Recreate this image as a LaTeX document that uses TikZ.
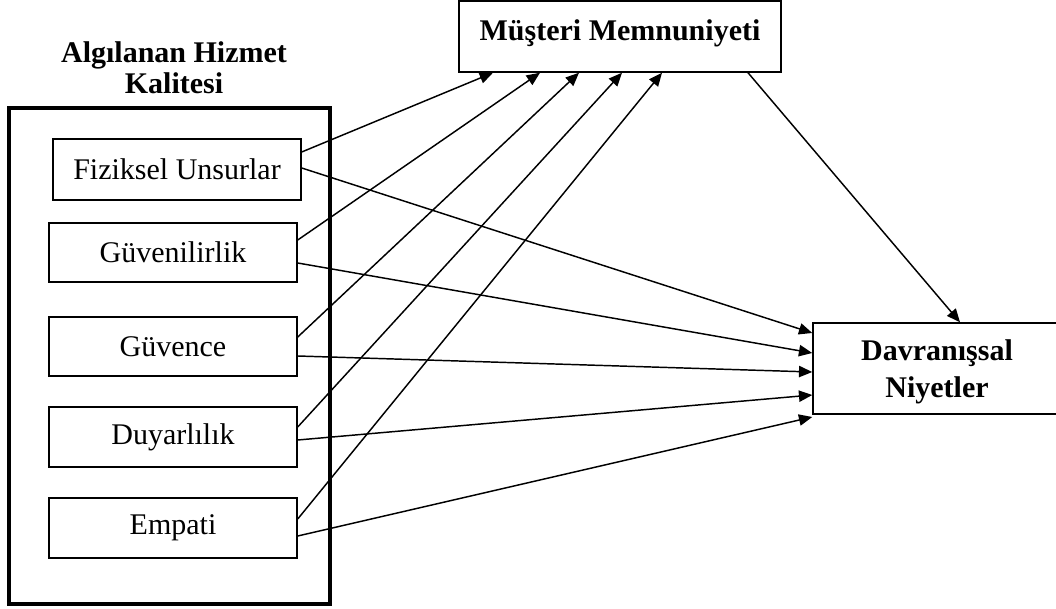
\documentclass[tikz,border=0pt]{standalone}
\usepackage{fontspec}
\setmainfont{Liberation Serif}
\usetikzlibrary{calc,arrows.meta}
\begin{document}
\begin{tikzpicture}[x=0.75pt,y=-0.75pt,
  dim/.style={draw, line width=1.1pt, inner sep=0pt, font=\fontsize{22.5}{26}\selectfont, minimum width=186pt},
  bigbox/.style={draw, line width=1.1pt, inner sep=0pt},
  conn/.style={line width=1.1pt, -{Triangle[length=10pt,width=8.5pt]}},
  plain/.style={line width=1.1pt}
]
\useasboundingbox (0,0) rectangle (1056,609);
% outer container
\node[draw, line width=2.3pt, minimum width=240.75pt, minimum height=372pt, inner sep=0pt] (hq) at (169.5,356) {};
\node[font=\bfseries\fontsize{22.5}{23.25}\selectfont, align=center] (title) at (174,67.5) {Algılanan Hizmet\\Kalitesi};
% dimension boxes
\node[dim, minimum height=45.75pt] (f) at (177,169.5) {Fiziksel Unsurlar};
\node[dim, minimum height=44.25pt] (g1) at (173,252.5) {Güvenilirlik};
\node[dim, minimum height=44.25pt] (g2) at (173,346.5) {Güvence};
\node[dim, minimum height=45pt] (d) at (173,437) {Duyarlılık};
\node[dim, minimum height=45pt] (e) at (173,528) {Empati};
% outcome boxes
\node[bigbox, minimum width=241.5pt, minimum height=53.25pt,
  label={[font=\bfseries\fontsize{22.5}{26}\selectfont, yshift=2pt]center:Müşteri Memnuniyeti}] (m) at (620,36.5) {};
\node[bigbox, minimum width=186pt, minimum height=68.25pt,
  label={[align=center, font=\bfseries\fontsize{22.5}{27.75}\selectfont, yshift=-2.5pt]center:Davranışsal\\Niyetler}] (dn) at (937,368.5) {};
% arrows to Müşteri Memnuniyeti
\draw[conn] ($(f.east)+(0,-17.5)$) -- ($(m.south)+(-127,0)$);
\draw[conn] ($(g1.east)+(0,-12.5)$) -- ($(m.south)+(-80,0)$);
\draw[conn] ($(g2.east)+(0,-9.5)$) -- ($(m.south)+(-41,0)$);
\draw[conn] ($(d.east)+(0,-10)$) -- ($(m.south)+(2,0)$);
\draw[conn] ($(e.east)+(0,-9)$) -- ($(m.south)+(42,0)$);
% arrows to Davranışsal Niyetler
\draw[conn] ($(f.east)+(0,-1.5)$) -- ($(dn.west)+(0,-35.5)$);
\draw[conn] ($(g1.east)+(0,10.5)$) -- ($(dn.west)+(0,-15.5)$);
\draw[conn] ($(g2.east)+(0,9.5)$) -- ($(dn.west)+(0,3.5)$);
\draw[conn] ($(d.east)+(0,3)$) -- ($(dn.west)+(0,26.5)$);
\draw[conn] ($(e.east)+(0,8)$) -- ($(dn.west)+(0,48.5)$);
\draw[conn] ($(m.south)+(128,0)$) -- ($(dn.north)+(23,0)$);
\end{tikzpicture}
\end{document}
